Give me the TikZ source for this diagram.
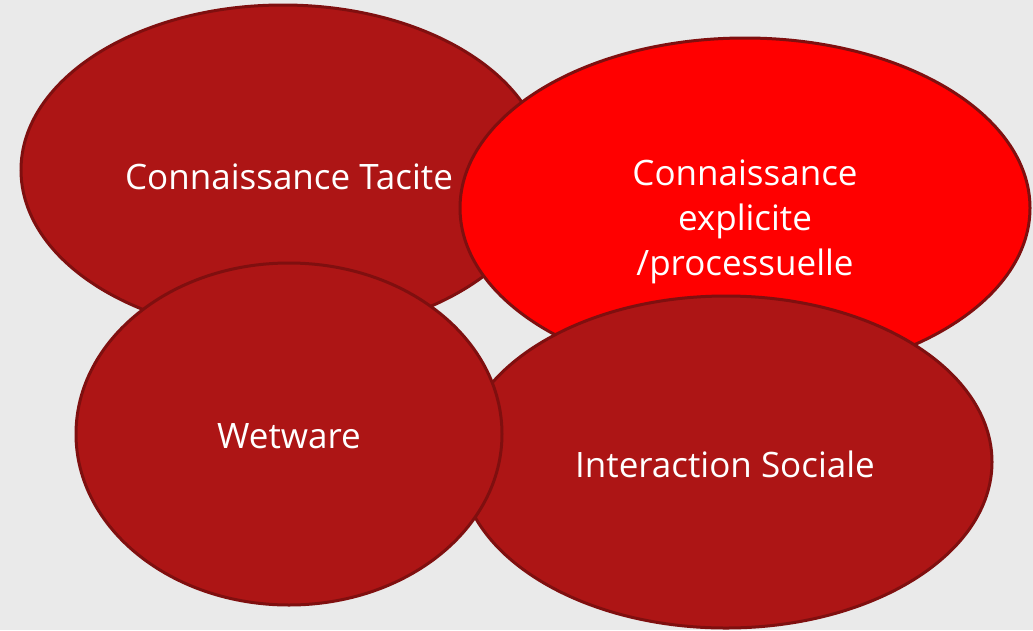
\documentclass[tikz,border=0pt]{standalone}
\usepackage{fontspec}
\setmainfont{Open Sans}
\usetikzlibrary{shapes.geometric}
\definecolor{bg}{HTML}{EAEAEA}
\definecolor{darkred}{HTML}{AD1515}
\definecolor{brightred}{HTML}{FF0000}
\definecolor{edge}{HTML}{7F0F0F}
\tikzset{
  blob/.style={ellipse, draw=edge, line width=3pt, inner sep=0pt, fill=darkred},
  lbl/.style={text=white, font=\fontsize{35}{45}\selectfont, align=center, inner sep=0pt}
}
\begin{document}
\begin{tikzpicture}[x=1pt,y=-1pt]
\fill[bg] (0,0) rectangle (1033,630);
\useasboundingbox (0,0) rectangle (1033,630);
\node[blob, minimum width=524pt, minimum height=330pt] (tac) at (283,170) {};
\node[blob, fill=brightred, minimum width=570pt, minimum height=340pt] (exp) at (745,208) {};
\node[blob, minimum width=532pt, minimum height=332pt] (soc) at (726,462) {};
\node[blob, minimum width=426pt, minimum height=342pt] (wet) at (289,434) {};
\node[lbl] (tact) at ([shift={(6,7)}]tac.center) {Connaissance Tacite};
\node[lbl] (expt) at ([shift={(0,14)}]exp.center) {Connaissance\\explicite\\/processuelle};
\node[lbl] (wett) at ([shift={(0,2)}]wet.center) {Wetware};
\node[lbl] (soct) at ([shift={(-1,2)}]soc.center) {Interaction Sociale};
\end{tikzpicture}
\end{document}
